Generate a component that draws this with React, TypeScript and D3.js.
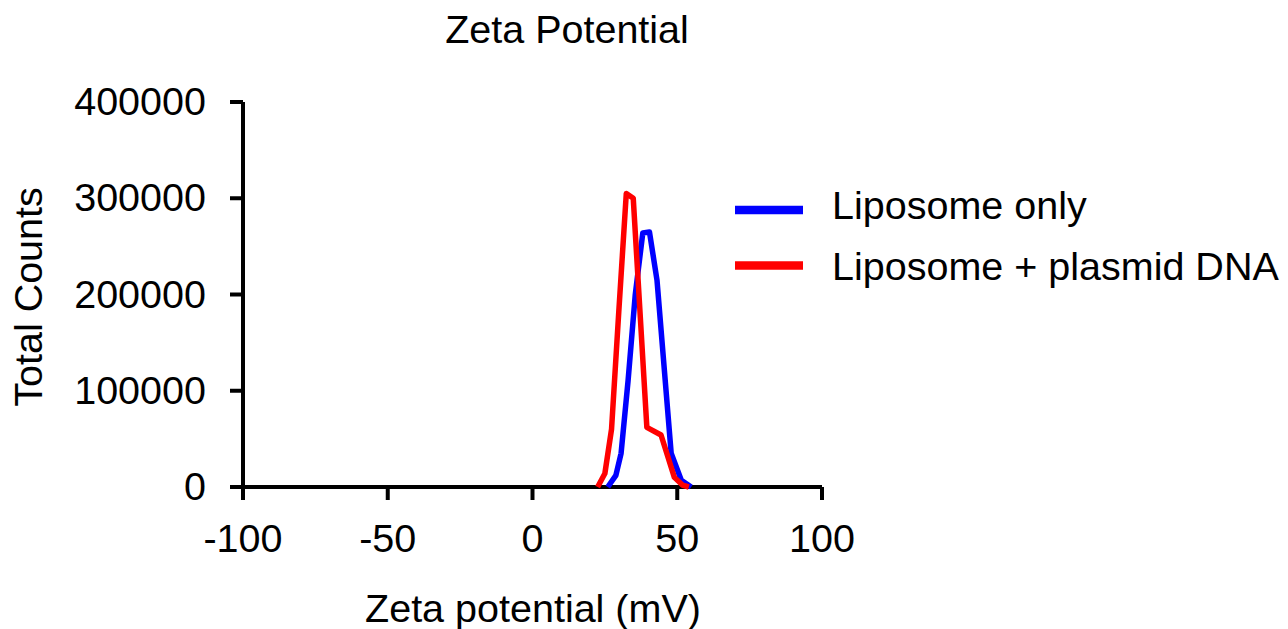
import React from "react";
import * as d3 from "d3";

const xTicks = [-100, -50, 0, 50, 100];
const yTicks = [0, 100000, 200000, 300000, 400000];

const blueX = [26, 28.8, 30.6, 33, 35.5, 38.1, 40.4, 43, 47.9, 51.4, 54.8];
const blueY = [0, 12000, 35000, 110000, 200000, 264000, 265000, 215000, 35000, 7000, 0];

const redX = [22.5, 25, 27.3, 29.8, 32.4, 34.8, 39.5, 44.4, 49, 51.8, 54];
const redY = [0, 14000, 60000, 182000, 305000, 300000, 62000, 54000, 10000, 2000, 0];

const seriesNames = ["Liposome only", "Liposome + plasmid DNA"];
const seriesColors = ["#0000ff", "#ff0000"];

const FONT = "'Liberation Sans', Arial, sans-serif";
const FS = 39.5;

export default function App() {
  const x = d3.scaleLinear().domain([-100, 100]).range([243, 822]);
  const y = d3.scaleLinear().domain([0, 400000]).range([487, 102]);
  const line = d3
    .line<[number, number]>()
    .x((d) => x(d[0]))
    .y((d) => y(d[1]));
  const blue = blueX.map((v, i) => [v, blueY[i]] as [number, number]);
  const red = redX.map((v, i) => [v, redY[i]] as [number, number]);
  const series = [blue, red];
  const legendLineY = [210, 265.5];
  const legendTextY = [219, 280];

  return (
    <svg
      width={1288}
      height={629}
      style={{ position: "absolute", left: 0, top: 0, background: "#fff" }}
      fontFamily={FONT}
    >
      <rect width={1288} height={629} fill="#fff" />
      <text x={567} y={43} textAnchor="middle" fontSize={FS} fill="#000">
        Zeta Potential
      </text>
      {/* axes */}
      <line x1={x(-100)} x2={x(-100)} y1={y(400000)} y2={500} stroke="#000" strokeWidth={4} />
      <line x1={230} x2={x(100)} y1={y(0)} y2={y(0)} stroke="#000" strokeWidth={4} />
      {yTicks.map((t) => (
        <g key={"y" + t}>
          <line x1={230} x2={x(-100)} y1={y(t)} y2={y(t)} stroke="#000" strokeWidth={4} />
          <text x={206} y={y(t) + 13} textAnchor="end" fontSize={FS} fill="#000">
            {t}
          </text>
        </g>
      ))}
      {xTicks.map((t) => (
        <g key={"x" + t}>
          <line x1={x(t)} x2={x(t)} y1={y(0)} y2={500} stroke="#000" strokeWidth={4} />
          <text x={x(t)} y={552} textAnchor="middle" fontSize={FS} fill="#000">
            {t}
          </text>
        </g>
      ))}
      <text x={533} y={622} textAnchor="middle" fontSize={FS} fill="#000">
        Zeta potential (mV)
      </text>
      <text
        transform={`translate(42, 297) rotate(-90)`}
        textAnchor="middle"
        fontSize={FS}
        fill="#000"
      >
        Total Counts
      </text>
      {series.map((s, i) => (
        <path
          key={"s" + i}
          d={line(s) || ""}
          fill="none"
          stroke={seriesColors[i]}
          strokeWidth={5.5}
          strokeLinejoin="round"
        />
      ))}
      {seriesNames.map((n, i) => (
        <g key={"l" + i}>
          <line x1={735} x2={803} y1={legendLineY[i]} y2={legendLineY[i]} stroke={seriesColors[i]} strokeWidth={8.5} />
          <text x={832} y={legendTextY[i]} fontSize={FS} fill="#000">
            {n}
          </text>
        </g>
      ))}
    </svg>
  );
}
